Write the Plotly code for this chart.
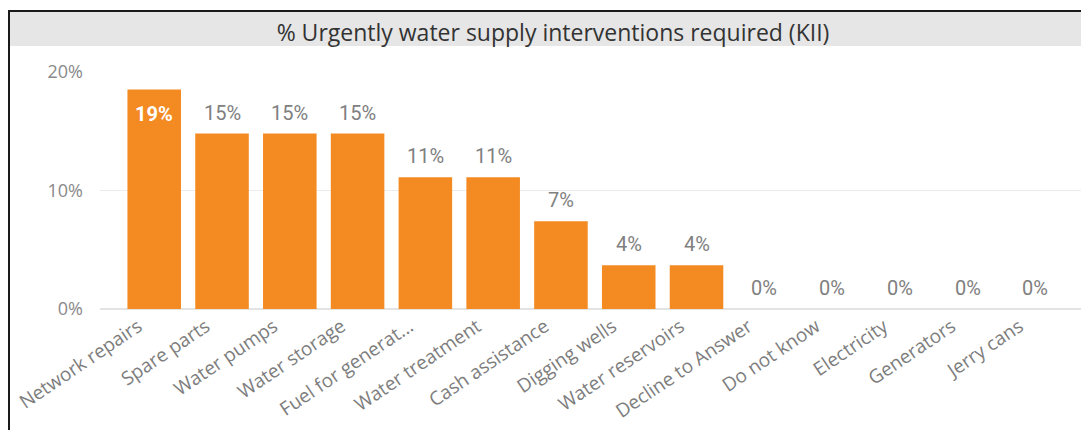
import plotly.graph_objects as go

categories = ["Network repairs", "Spare parts", "Water pumps", "Water storage",
              "Fuel for generat...", "Water treatment", "Cash assistance",
              "Digging wells", "Water reservoirs", "Decline to Answer",
              "Do not know", "Electricity", "Generators", "Jerry cans"]
values = [0.1852, 0.1481, 0.1481, 0.1481, 0.1111, 0.1111, 0.0741,
          0.0370, 0.0370, 0.0, 0.0, 0.0, 0.0, 0.0]
y_ticks = [0, 0.1, 0.2]
y_tick_labels = ["0%", "10%", "20%"]
title_text = "% Urgently water supply interventions required (KII)"

W, H = 1089, 430
OFF = 8  # page body margin
L, R, T, B = 100 - OFF, OFF, 72 - OFF, 430 - (309 - OFF)
pw, ph = W - L - R, H - T - B


def px(x):
    # x in screenshot pixels -> paper
    return (x - OFF - L) / pw


def py(y):
    return (H - B - (y - OFF)) / ph


fig = go.Figure()
fig.add_trace(go.Bar(
    x=categories, y=values,
    marker=dict(color="#F38A22", line=dict(width=0)),
    hoverinfo="skip",
))

ymax = 0.2
annotations = []
for c, v in zip(categories, values):
    inside = v > ymax * 0.9
    annotations.append(dict(
        x=c, y=v, xref="x", yref="y", text=f"{round(v * 100)}%",
        showarrow=False, yanchor="middle",
        yshift=-24 if inside else 21,
        font=dict(family="Roboto", size=20,
                  color="white" if inside else "#808080",
                  weight="bold" if inside else "normal"),
    ))

shapes = [
    dict(type="rect", xref="paper", yref="paper",
         x0=px(10), x1=px(1100), y0=py(46), y1=py(12),
         fillcolor="#e6e6e6", line=dict(width=0), layer="below"),
    dict(type="line", xref="paper", yref="paper",
         x0=px(8), x1=px(1100), y0=py(11), y1=py(11),
         line=dict(color="#1a1a1a", width=2)),
    dict(type="line", xref="paper", yref="paper",
         x0=px(9), x1=px(9), y0=py(10), y1=py(440),
         line=dict(color="#1a1a1a", width=2)),
]

fig.update_layout(
    width=W, height=H,
    margin=dict(l=L, r=R, t=T, b=B, autoexpand=False),
    paper_bgcolor="white", plot_bgcolor="white",
    bargap=0.21,
    showlegend=False,
    title=dict(text=title_text, x=(553 - OFF) / W, y=1 - (33 - OFF) / H,
               xref="container", yref="container",
               xanchor="center", yanchor="middle",
               font=dict(family="Open Sans", size=23, color="#333333")),
    xaxis=dict(range=[-0.8, 13.79], tickangle=-34,
               tickfont=dict(family="Open Sans", size=19, color="#7d7d7d"),
               showgrid=False, zeroline=False, showline=False, ticks="",
               ticklabelshift=-16, ticklabelstandoff=2),
    yaxis=dict(range=[0, ymax], tickvals=y_ticks, ticktext=y_tick_labels,
               tickfont=dict(family="Open Sans", size=18, color="#8a8a8a"),
               showgrid=True, gridcolor="#ececec", gridwidth=1,
               zeroline=True, zerolinecolor="#e3e3e3", zerolinewidth=2,
               showline=False, ticks="", ticklabelstandoff=16),
    annotations=annotations,
    shapes=shapes,
)

fig.write_html("out.html")
